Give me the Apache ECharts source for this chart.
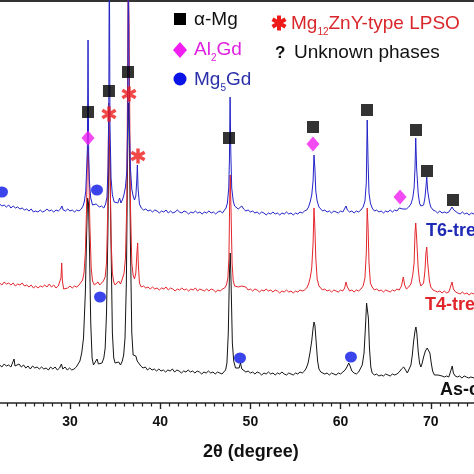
<!DOCTYPE html>
<html>
<head>
<meta charset="utf-8">
<script src="https://cdn.jsdelivr.net/npm/echarts@6/dist/echarts.min.js"></script>
<style>html,body{margin:0;padding:0;background:#fff}#c{width:474px;height:474px}</style>
</head>
<body>
<div id="c"></div>
<script>
// ---- data (2θ in degrees, intensity in arbitrary offset units) ----
const asCast = [[22.2,38],[22.45,36],[22.7,39],[22.95,37],[23.2,38],[23.45,36],[23.65,38],[23.8,44],[23.9,37],[24.1,36],[24.35,39],[24.6,36],[24.85,38],[25.1,35],[25.35,37],[25.6,34],[25.85,37],[26.1,35],[26.35,36],[26.6,34],[26.85,36],[27.1,34],[27.35,35],[27.6,33],[27.85,36],[28.1,34],[28.35,36],[28.6,33],[28.85,35],[29.05,39],[29.2,34],[29.45,36],[29.7,33],[29.95,35],[30.2,33],[30.45,34],[30.7,36],[30.9,38],[31.1,42],[31.3,50],[31.5,65],[31.7,110],[31.85,170],[31.95,205],[32.05,200],[32.15,160],[32.3,80],[32.45,45],[32.6,38],[32.8,40],[33.0,44],[33.15,39],[33.35,41],[33.55,40],[33.75,45],[33.9,55],[34.05,90],[34.2,170],[34.32,265],[34.42,250],[34.55,160],[34.7,70],[34.85,45],[35.0,40],[35.2,38],[35.4,41],[35.6,38],[35.8,42],[35.95,48],[36.1,65],[36.25,120],[36.38,240],[36.48,300],[36.58,270],[36.7,160],[36.85,70],[37.0,48],[37.15,50],[37.3,47],[37.45,42],[37.65,40],[37.85,37],[38.1,35],[38.35,36],[38.6,33],[38.85,35],[39.1,33],[39.35,34],[39.6,32],[39.85,34],[40.1,32],[40.35,33],[40.6,31],[40.85,33],[41.1,32],[41.35,34],[41.6,31],[41.85,33],[42.1,32],[42.35,30],[42.6,32],[42.85,31],[43.1,33],[43.35,31],[43.6,32],[43.85,30],[44.1,32],[44.35,31],[44.6,29],[44.85,31],[45.1,30],[45.35,32],[45.6,30],[45.85,31],[46.1,29],[46.35,31],[46.6,30],[46.85,29],[47.05,31],[47.25,33],[47.4,40],[47.55,70],[47.68,130],[47.76,150],[47.86,120],[48.0,60],[48.15,42],[48.35,35],[48.55,33],[48.75,35],[48.9,40],[49.05,34],[49.25,33],[49.5,31],[49.75,32],[50.0,30],[50.25,31],[50.5,29],[50.75,31],[51.0,30],[51.25,28],[51.5,30],[51.75,29],[52.0,31],[52.25,29],[52.5,30],[52.75,28],[53.0,30],[53.25,29],[53.5,31],[53.75,29],[54.0,28],[54.25,30],[54.5,29],[54.75,28],[55.0,30],[55.25,29],[55.5,31],[55.75,30],[56.0,32],[56.2,35],[56.4,40],[56.6,50],[56.8,62],[56.95,75],[57.05,81],[57.15,78],[57.3,60],[57.45,42],[57.6,34],[57.8,31],[58.0,30],[58.25,29],[58.5,30],[58.75,28],[59.0,30],[59.25,29],[59.5,28],[59.75,30],[60.0,29],[60.25,31],[60.5,33],[60.7,36],[60.9,40],[61.05,37],[61.25,32],[61.5,30],[61.75,29],[62.0,31],[62.2,33],[62.4,38],[62.6,50],[62.75,75],[62.88,100],[62.98,102],[63.08,85],[63.2,55],[63.35,36],[63.5,30],[63.75,28],[64.0,29],[64.25,27],[64.5,28],[64.75,27],[65.0,29],[65.25,28],[65.5,27],[65.75,29],[66.0,28],[66.25,29],[66.5,31],[66.75,34],[67.0,36],[67.2,33],[67.4,30],[67.6,32],[67.8,38],[67.95,48],[68.1,62],[68.25,72],[68.35,76],[68.45,70],[68.6,52],[68.75,40],[68.9,36],[69.05,40],[69.2,46],[69.4,52],[69.6,55],[69.75,56],[69.9,50],[70.05,40],[70.2,32],[70.4,28],[70.6,27],[70.8,28],[71.0,26],[71.25,27],[71.5,26],[71.75,27],[72.0,26],[72.2,28],[72.38,37],[72.5,30],[72.7,27],[72.95,26],[73.2,27],[73.45,25],[73.7,27],[73.95,26],[74.2,25],[74.45,26],[74.8,25]];

const t4 = [[22.2,120],[22.45,118],[22.7,121],[22.95,119],[23.2,120],[23.45,118],[23.7,120],[23.95,117],[24.2,119],[24.45,118],[24.7,120],[24.95,117],[25.2,118],[25.45,116],[25.7,118],[25.95,115],[26.2,117],[26.45,115],[26.7,117],[26.95,116],[27.2,118],[27.45,116],[27.7,119],[27.95,116],[28.2,118],[28.45,115],[28.7,117],[28.9,116],[29.0,125],[29.08,140],[29.16,122],[29.3,114],[29.5,116],[29.75,115],[30.0,117],[30.25,115],[30.5,117],[30.75,116],[31.0,118],[31.2,120],[31.4,123],[31.55,130],[31.7,150],[31.82,190],[31.92,240],[32.0,256],[32.08,235],[32.2,180],[32.35,135],[32.5,122],[32.7,118],[32.9,119],[33.1,121],[33.3,118],[33.5,120],[33.7,122],[33.9,126],[34.05,140],[34.18,190],[34.3,300],[34.42,250],[34.55,165],[34.7,130],[34.85,121],[35.0,118],[35.2,120],[35.4,122],[35.6,119],[35.8,124],[36.0,130],[36.15,145],[36.3,200],[36.45,420],[36.55,380],[36.7,200],[36.85,140],[37.0,128],[37.15,124],[37.3,130],[37.42,150],[37.5,160],[37.58,138],[37.7,120],[37.9,116],[38.15,117],[38.4,115],[38.65,116],[38.9,114],[39.15,116],[39.4,114],[39.65,115],[39.9,113],[40.15,115],[40.4,114],[40.65,116],[40.9,113],[41.15,115],[41.4,114],[41.65,112],[41.9,114],[42.15,113],[42.4,115],[42.65,113],[42.9,114],[43.15,112],[43.4,114],[43.65,113],[43.9,115],[44.15,112],[44.4,114],[44.65,113],[44.9,112],[45.15,114],[45.4,112],[45.65,114],[45.9,113],[46.15,111],[46.4,113],[46.65,112],[46.9,114],[47.15,115],[47.35,118],[47.5,125],[47.62,145],[47.7,200],[47.76,228],[47.86,190],[47.97,140],[48.1,122],[48.25,117],[48.45,119],[48.65,116],[48.85,118],[49.05,117],[49.25,115],[49.5,116],[49.75,113],[50.0,114],[50.25,112],[50.5,114],[50.75,113],[51.0,111],[51.25,113],[51.5,112],[51.75,114],[52.0,112],[52.25,113],[52.5,111],[52.75,113],[53.0,112],[53.25,110],[53.5,112],[53.75,111],[54.0,113],[54.25,111],[54.5,112],[54.75,110],[55.0,112],[55.25,111],[55.5,113],[55.75,112],[56.0,113],[56.25,115],[56.45,119],[56.65,126],[56.8,135],[56.95,160],[57.05,195],[57.15,175],[57.25,145],[57.4,124],[57.6,117],[57.8,115],[58.0,113],[58.25,114],[58.5,112],[58.75,113],[59.0,111],[59.25,113],[59.5,112],[59.75,111],[60.0,113],[60.25,112],[60.45,115],[60.6,121],[60.75,116],[61.0,112],[61.25,113],[61.5,111],[61.75,113],[62.0,112],[62.25,114],[62.5,117],[62.7,125],[62.85,150],[62.95,195],[63.05,175],[63.15,140],[63.3,120],[63.5,116],[63.75,113],[64.0,114],[64.25,112],[64.5,113],[64.75,111],[65.0,113],[65.25,112],[65.5,111],[65.75,113],[66.0,112],[66.25,114],[66.5,113],[66.75,117],[66.95,126],[67.1,118],[67.3,114],[67.55,116],[67.8,119],[68.0,128],[68.15,140],[68.25,170],[68.33,180],[68.43,165],[68.6,135],[68.75,122],[68.9,117],[69.05,116],[69.2,120],[69.35,132],[69.46,150],[69.55,156],[69.66,140],[69.85,122],[70.0,116],[70.25,113],[70.5,112],[70.75,111],[71.0,112],[71.25,110],[71.5,112],[71.75,110],[72.0,111],[72.2,113],[72.36,121],[72.5,114],[72.75,111],[73.0,110],[73.25,109],[73.5,111],[73.75,109],[74.0,110],[74.25,108],[74.5,110],[74.8,109]];

const t6 = [[22.2,199],[22.45,197],[22.7,198],[22.95,196],[23.2,198],[23.45,195],[23.7,197],[23.95,195],[24.2,196],[24.45,194],[24.7,195],[24.95,193],[25.2,194],[25.45,192],[25.7,194],[25.95,191],[26.2,192],[26.45,191],[26.7,193],[26.95,191],[27.2,192],[27.45,194],[27.7,192],[27.95,193],[28.2,191],[28.45,193],[28.7,192],[28.95,194],[29.1,197],[29.25,193],[29.5,192],[29.75,194],[30.0,192],[30.25,193],[30.5,191],[30.75,193],[31.0,192],[31.25,194],[31.45,197],[31.6,202],[31.75,212],[31.85,235],[31.93,255],[32.0,363],[32.07,250],[32.15,222],[32.3,205],[32.5,198],[32.7,196],[32.9,199],[33.05,201],[33.25,196],[33.5,197],[33.75,195],[33.95,199],[34.1,206],[34.22,235],[34.3,290],[34.36,460],[34.43,280],[34.55,225],[34.7,208],[34.9,201],[35.1,199],[35.3,200],[35.5,205],[35.65,200],[35.85,204],[36.0,209],[36.15,216],[36.3,232],[36.4,280],[36.47,470],[36.55,290],[36.7,235],[36.85,214],[37.0,207],[37.15,203],[37.3,207],[37.4,222],[37.47,238],[37.55,214],[37.7,199],[37.9,195],[38.15,193],[38.4,194],[38.65,192],[38.9,193],[39.15,191],[39.4,193],[39.65,192],[39.9,190],[40.15,192],[40.4,191],[40.65,193],[40.9,190],[41.15,192],[41.4,190],[41.65,191],[41.9,193],[42.15,191],[42.4,190],[42.65,192],[42.9,191],[43.15,189],[43.4,191],[43.65,190],[43.9,192],[44.15,190],[44.4,191],[44.65,189],[44.9,191],[45.15,190],[45.4,192],[45.65,190],[45.9,191],[46.15,189],[46.4,191],[46.65,192],[46.9,190],[47.1,192],[47.3,195],[47.45,200],[47.6,215],[47.68,245],[47.75,306],[47.83,250],[47.93,215],[48.1,202],[48.25,197],[48.45,196],[48.65,194],[48.85,195],[49.05,197],[49.25,194],[49.5,192],[49.75,193],[50.0,191],[50.25,192],[50.5,190],[50.75,191],[51.0,189],[51.25,191],[51.5,190],[51.75,188],[52.0,190],[52.25,189],[52.5,191],[52.75,189],[53.0,190],[53.25,188],[53.5,190],[53.75,189],[54.0,191],[54.25,189],[54.5,190],[54.75,188],[55.0,190],[55.25,189],[55.5,191],[55.75,190],[56.0,192],[56.25,193],[56.45,196],[56.65,202],[56.8,208],[56.95,222],[57.05,248],[57.15,235],[57.25,212],[57.4,202],[57.6,196],[57.8,194],[58.0,192],[58.25,193],[58.5,191],[58.75,192],[59.0,190],[59.25,192],[59.5,191],[59.75,190],[60.0,192],[60.25,191],[60.45,193],[60.6,197],[60.75,193],[61.0,191],[61.25,192],[61.5,190],[61.75,192],[62.0,191],[62.25,193],[62.5,196],[62.7,202],[62.85,220],[62.95,283],[63.05,240],[63.15,210],[63.3,200],[63.5,195],[63.75,192],[64.0,193],[64.25,191],[64.5,192],[64.75,190],[65.0,192],[65.25,191],[65.5,193],[65.75,191],[66.0,193],[66.25,192],[66.5,195],[66.7,197],[66.9,194],[67.1,196],[67.3,194],[67.55,196],[67.8,199],[68.0,205],[68.15,215],[68.25,235],[68.33,265],[68.43,235],[68.6,210],[68.75,200],[68.9,197],[69.05,195],[69.2,198],[69.35,205],[69.46,216],[69.55,226],[69.66,212],[69.85,201],[70.0,196],[70.25,193],[70.5,192],[70.75,190],[71.0,192],[71.25,190],[71.5,191],[71.75,190],[72.0,191],[72.2,192],[72.36,196],[72.55,193],[72.75,191],[73.0,190],[73.25,189],[73.5,191],[73.75,189],[74.0,190],[74.25,188],[74.5,190],[74.8,189]];

// phase markers [2θ, height]
const alphaMg = [[32.0,291],[34.32,312],[36.43,331],[47.63,265],[56.94,276],[62.93,293],[68.36,273],[69.58,232],[72.46,203]];
const al2gd = [[32.0,265],[56.94,259],[66.59,206]];
const mg5gd = [[22.46,211],[32.99,213],[33.33,106],[48.85,45],[61.15,46]];
const lpso = [[34.32,289],[36.54,309],[37.54,247]];
const unknown = [[24.01,59,'?'],[29.33,212,'?'],[49.4,207,'??'],[60.71,210,'?']];

const majorTicks = [30,40,50,60,70];
const minorTicks = [23,24,25,26,27,28,29,31,32,33,34,35,36,37,38,39,41,42,43,44,45,46,47,48,49,51,52,53,54,55,56,57,58,59,61,62,63,64,65,66,67,68,69,71,72,73,74];

const sampleNames = ['As-cast','T4-treated','T6-treated'];

const FONT = '"Liberation Sans", Arial, sans-serif';
const X_MIN = 22.24, X_MAX = 74.79;
const ASTER = 'path://M7.8 0L12.2 0L12.2 20L7.8 20Z M0.24 6.9L2.44 3.1L19.76 13.1L17.56 16.9Z M2.44 16.9L0.24 13.1L17.56 3.1L19.76 6.9Z';

const chart = echarts.init(document.getElementById('c'), null, {renderer:'canvas'});

function asterGroup(cx, cy, len, w, color){
  return {
    type:'group', x:cx, y:cy,
    children:[0, Math.PI/3, -Math.PI/3].map(r => ({
      type:'rect', rotation:r,
      shape:{x:-w/2, y:-len/2, width:w, height:len},
      style:{fill:color}
    }))
  };
}

const baseX = {type:'value', min:X_MIN, max:X_MAX, splitLine:{show:false}};
chart.setOption({
  animation:false,
  backgroundColor:'#fff',
  grid:{left:0, right:0, top:1, bottom:71, containLabel:false},
  xAxis:[
    Object.assign({}, baseX, {
      position:'bottom',
      axisLine:{show:true, lineStyle:{color:'#222', width:1.6}},
      axisTick:{show:true, inside:false, length:6, customValues:majorTicks, lineStyle:{color:'#222', width:1.4}},
      axisLabel:{show:true, customValues:majorTicks, margin:12, fontFamily:FONT, fontWeight:'bold', fontSize:14, color:'#111'}
    }),
    Object.assign({}, baseX, {
      position:'bottom',
      axisLine:{show:false},
      axisTick:{show:true, inside:false, length:3.5, customValues:minorTicks, lineStyle:{color:'#222', width:1.2}},
      axisLabel:{show:false}
    }),
    Object.assign({}, baseX, {
      position:'top',
      axisLine:{show:true, lineStyle:{color:'#333', width:2}},
      axisTick:{show:false}, axisLabel:{show:false}
    })
  ],
  yAxis:{type:'value', min:0, max:402, show:false},
  series:[
    {name:sampleNames[0], type:'line', data:asCast, showSymbol:false, lineStyle:{color:'#151515', width:1}, z:2},
    {name:sampleNames[1], type:'line', data:t4, showSymbol:false, lineStyle:{color:'#e3262b', width:1}, z:3},
    {name:sampleNames[2], type:'line', data:t6, showSymbol:false, lineStyle:{color:'#2323c8', width:1}, z:4},
    {type:'scatter', data:alphaMg, symbol:'rect', symbolSize:12, itemStyle:{color:'#000'}, z:10},
    {type:'scatter', data:al2gd, symbol:'diamond', symbolSize:[13,15], itemStyle:{color:'#f01ef0'}, z:10},
    {type:'scatter', data:mg5gd, symbol:'circle', symbolSize:[12,11], itemStyle:{color:'#0a14e6'}, z:10},
    {type:'scatter', data:lpso, symbol:ASTER, symbolSize:15, itemStyle:{color:'#ee1a1a'}, z:10},
    {type:'scatter', data:unknown, symbol:'circle', symbolSize:1, itemStyle:{opacity:0}, z:10,
      label:{show:true, position:'inside', formatter:p => p.data[2], fontFamily:FONT, fontWeight:'bold', fontSize:16, color:'#111'}}
  ],
  graphic:[
    // legend
    {type:'rect', shape:{x:174, y:13, width:12, height:12}, style:{fill:'#000'}},
    {type:'text', x:194, y:20, style:{text:'α-Mg', font:'19px ' + FONT, fill:'#111', verticalAlign:'middle'}},
    {type:'polygon', shape:{points:[[180,42],[187,50],[180,58],[173,50]]}, style:{fill:'#f01ef0'}},
    {type:'text', x:194, y:50, style:{
      text:'{a|Al}{s|2}{a|Gd}', verticalAlign:'middle', fill:'#e020e0',
      rich:{a:{fontFamily:FONT, fontSize:19, lineHeight:26, color:'#e020e0'}, s:{fontFamily:FONT, fontSize:10, lineHeight:10, verticalAlign:'bottom', color:'#e020e0'}}}},
    {type:'circle', shape:{cx:180, cy:79, r:6.5}, style:{fill:'#0a14e6'}},
    {type:'text', x:194, y:80, style:{
      text:'{a|Mg}{s|5}{a|Gd}', verticalAlign:'middle', fill:'#2a30a8',
      rich:{a:{fontFamily:FONT, fontSize:19, lineHeight:26, color:'#2a30a8'}, s:{fontFamily:FONT, fontSize:10, lineHeight:10, verticalAlign:'bottom', color:'#2a30a8'}}}},
    asterGroup(279, 23, 15, 4, '#ee1a1a'),
    {type:'text', x:291, y:24, style:{
      text:'{a|Mg}{s|12}{a|ZnY-type LPSO}', verticalAlign:'middle', fill:'#d9262b',
      rich:{a:{fontFamily:FONT, fontSize:19, lineHeight:26, color:'#d9262b'}, s:{fontFamily:FONT, fontSize:10, lineHeight:10, verticalAlign:'bottom', color:'#d9262b'}}}},
    {type:'text', x:275, y:53, style:{text:'?', font:'bold 17px ' + FONT, fill:'#111', verticalAlign:'middle'}},
    {type:'text', x:294, y:53, style:{text:'Unknown phases', font:'19px ' + FONT, fill:'#111', verticalAlign:'middle'}},
    // sample labels
    {type:'text', x:426, y:231, style:{text:sampleNames[2], font:'bold 18px ' + FONT, fill:'#1f2bb5', verticalAlign:'middle'}},
    {type:'text', x:425, y:305, style:{text:sampleNames[1], font:'bold 18px ' + FONT, fill:'#e0262b', verticalAlign:'middle'}},
    {type:'text', x:440, y:390, style:{text:sampleNames[0], font:'bold 18px ' + FONT, fill:'#111', verticalAlign:'middle'}},
    // axis title
    {type:'text', x:203, y:452, style:{text:'2θ (degree)', font:'bold 18px ' + FONT, fill:'#111', verticalAlign:'middle'}}
  ]
});
</script>
</body>
</html>
